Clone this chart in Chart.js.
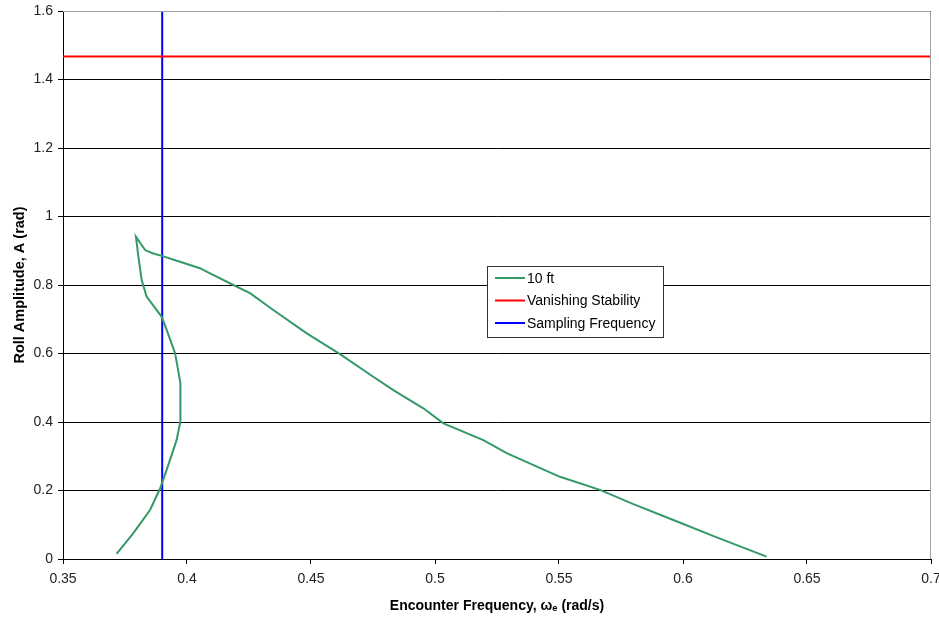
<!DOCTYPE html>
<html>
<head>
<meta charset="utf-8">
<script src="https://cdn.jsdelivr.net/npm/chart.js@4.4.1/dist/chart.umd.min.js"></script>
<style>
    html, body { margin: 0; padding: 0; background: #fff; }
    #wrap { width: 939px; height: 623px; }
</style>
</head>
<body>
<div id="wrap"><canvas id="rollChart"></canvas></div>
<script>
// 10 ft curve
const freq10 = [0.3716, 0.3783, 0.3851, 0.3891, 0.3918, 0.3958, 0.3972, 0.3975, 0.3972, 0.3952,
    0.3918, 0.3898, 0.3837, 0.3817, 0.3804, 0.3794, 0.3831, 0.3864, 0.3898, 0.3972,
    0.4052, 0.4093, 0.4187, 0.4254, 0.4348, 0.4483, 0.4617, 0.4751, 0.4832, 0.4953,
    0.5034, 0.5195, 0.5289, 0.5504, 0.5665, 0.5800, 0.5961, 0.6136, 0.6337];
const amp10 = [0.015, 0.075, 0.143, 0.205, 0.260, 0.347, 0.397, 0.460, 0.513, 0.601,
    0.669, 0.707, 0.766, 0.815, 0.883, 0.941, 0.902, 0.892, 0.885, 0.868,
    0.849, 0.834, 0.800, 0.776, 0.727, 0.659, 0.598, 0.532, 0.493, 0.440,
    0.396, 0.347, 0.309, 0.240, 0.202, 0.160, 0.114, 0.063, 0.007];

const vanishingFreq = [0.35, 0.7];
const vanishingAmp = [1.467, 1.467];

const samplingFreq = [0.39, 0.39];
const samplingAmp = [0, 1.6];

const seriesLabels = ["10 ft", "Vanishing Stability", "Sampling Frequency"];
const seriesColors = ["#339966", "#ff0000", "#0000ff"];

function toPoints(xs, ys) {
    return xs.map((x, i) => ({ x: x, y: ys[i] }));
}

const fontFamily = "'Liberation Sans', Arial, sans-serif";

// gray frame on top and right of the plot, like excel
const plotFrame = {
    id: "plotFrame",
    afterDatasetsDraw(chart) {
        const { ctx, chartArea } = chart;
        ctx.save();
        ctx.strokeStyle = "#a0a0a0";
        ctx.lineWidth = 1;
        ctx.beginPath();
        ctx.moveTo(chartArea.left, chartArea.top + 0.5);
        ctx.lineTo(chartArea.right - 0.5, chartArea.top + 0.5);
        ctx.lineTo(chartArea.right - 0.5, chartArea.bottom);
        ctx.stroke();
        ctx.restore();
    }
};

// legend box sitting inside the plot
const boxLegend = {
    id: "boxLegend",
    afterDraw(chart) {
        const ctx = chart.ctx;
        const left = 487, top = 266, w = 176, h = 71;
        ctx.save();
        ctx.fillStyle = "#fff";
        ctx.fillRect(left, top, w, h);
        ctx.strokeStyle = "#333";
        ctx.lineWidth = 1;
        ctx.strokeRect(left + 0.5, top + 0.5, w, h);
        ctx.font = "14px " + fontFamily;
        ctx.textBaseline = "middle";
        chart.data.datasets.forEach((ds, i) => {
            const y = top + 12 + i * 22.5;
            ctx.strokeStyle = ds.borderColor;
            ctx.lineWidth = 2;
            ctx.beginPath();
            ctx.moveTo(left + 8, y);
            ctx.lineTo(left + 38, y);
            ctx.stroke();
            ctx.fillStyle = "#000";
            ctx.fillText(ds.label, left + 40, y + 1);
        });
        ctx.restore();
    }
};

const ctx = document.getElementById("rollChart").getContext("2d");

new Chart(ctx, {
    type: "scatter",
    data: {
        datasets: [
            {
                label: seriesLabels[0],
                data: toPoints(freq10, amp10),
                borderColor: seriesColors[0],
                backgroundColor: seriesColors[0],
                borderWidth: 2,
                showLine: true,
                pointRadius: 0,
                tension: 0
            },
            {
                label: seriesLabels[1],
                data: toPoints(vanishingFreq, vanishingAmp),
                borderColor: seriesColors[1],
                backgroundColor: seriesColors[1],
                borderWidth: 2,
                showLine: true,
                pointRadius: 0
            },
            {
                label: seriesLabels[2],
                data: toPoints(samplingFreq, samplingAmp),
                borderColor: seriesColors[2],
                backgroundColor: seriesColors[2],
                borderWidth: 2,
                showLine: true,
                pointRadius: 0
            }
        ]
    },
    options: {
        responsive: true,
        maintainAspectRatio: false,
        animation: false,
        layout: {
            padding: { top: 11, right: 8, left: 0, bottom: 0 }
        },
        plugins: {
            legend: { display: false },
            tooltip: { enabled: false }
        },
        scales: {
            x: {
                type: "linear",
                min: 0.35,
                max: 0.7,
                ticks: {
                    stepSize: 0.05,
                    color: "#222",
                    padding: 7,
                    font: { family: fontFamily, size: 14 },
                    callback: (v) => String(+v.toFixed(2))
                },
                grid: {
                    drawOnChartArea: false,
                    drawTicks: true,
                    tickLength: 5,
                    color: "#000"
                },
                border: { color: "#000", width: 1 },
                title: {
                    display: true,
                    text: "Encounter Frequency, \u03c9\u2091 (rad/s)",
                    color: "#000",
                    font: { family: fontFamily, size: 14, weight: "bold" },
                    padding: { top: 6, bottom: 8 }
                },
                afterFit: (scale) => {
                    scale.height = 64;
                    scale.paddingRight = 0;
                }
            },
            y: {
                type: "linear",
                min: 0,
                max: 1.6,
                ticks: {
                    stepSize: 0.2,
                    color: "#222",
                    padding: 5,
                    font: { family: fontFamily, size: 14 },
                    callback: (v) => String(+v.toFixed(1))
                },
                grid: {
                    color: "#000",
                    tickLength: 5,
                    lineWidth: 1
                },
                border: { color: "#000", width: 1 },
                title: {
                    display: true,
                    text: "Roll Amplitude, A (rad)",
                    color: "#000",
                    font: { family: fontFamily, size: 14.5, weight: "bold" },
                    padding: { top: 11, bottom: 0 }
                },
                afterFit: (scale) => {
                    scale.width = 63;
                    scale.paddingTop = 0;
                }
            }
        }
    },
    plugins: [plotFrame, boxLegend]
});
</script>
</body>
</html>
